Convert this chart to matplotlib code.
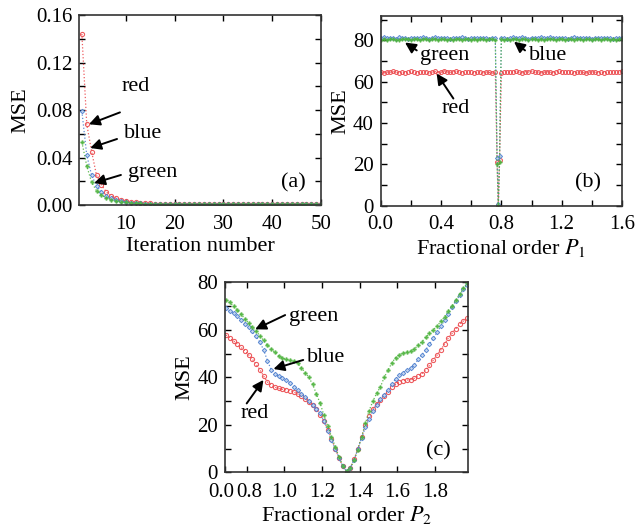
import numpy as np
import matplotlib
matplotlib.use("Agg")
import matplotlib.pyplot as plt
import matplotlib.transforms as mtransforms
from matplotlib.ticker import MultipleLocator, FixedLocator

plt.rcParams["font.family"] = ["Liberation Serif", "DejaVu Serif"]
plt.rcParams["mathtext.fontset"] = "stix"
plt.rcParams["font.size"] = 15

RED = "#ec4a4e"
BLUE = "#4d7fcf"
GREEN = "#4db33d"

# (a) MSE vs iteration
ITER = list(range(1, 51))
A_RED = [0.144, 0.068, 0.045, 0.025, 0.017, 0.011, 0.0078, 0.0058, 0.0044, 0.0034,
         0.0027, 0.0022, 0.0018, 0.0015, 0.0013, 0.0012, 0.0011, 0.0010, 0.0010, 0.0009,
         0.0009, 0.0009, 0.0008, 0.0009, 0.0008, 0.0009, 0.0008, 0.0008, 0.0009, 0.0008,
         0.0008, 0.0009, 0.0008, 0.0008, 0.0009, 0.0008, 0.0008, 0.0009, 0.0008, 0.0008,
         0.0009, 0.0008, 0.0008, 0.0009, 0.0008, 0.0008, 0.0009, 0.0008, 0.0008, 0.0009]
A_BLUE = [0.079, 0.042, 0.025, 0.016, 0.011, 0.0075, 0.0055, 0.0042, 0.0033, 0.0026,
          0.0021, 0.0017, 0.0014, 0.0012, 0.0010, 0.0009, 0.0008, 0.0008, 0.0007, 0.0007,
          0.0007, 0.0006, 0.0007, 0.0006, 0.0007, 0.0006, 0.0006, 0.0007, 0.0006, 0.0006,
          0.0007, 0.0006, 0.0006, 0.0007, 0.0006, 0.0006, 0.0007, 0.0006, 0.0006, 0.0007,
          0.0006, 0.0006, 0.0007, 0.0006, 0.0006, 0.0007, 0.0006, 0.0006, 0.0007, 0.0006]
A_GREEN = [0.053, 0.033, 0.019, 0.012, 0.0082, 0.0060, 0.0046, 0.0036, 0.0029, 0.0023,
           0.0019, 0.0015, 0.0013, 0.0011, 0.0010, 0.0009, 0.0008, 0.0007, 0.0007, 0.0006,
           0.0006, 0.0006, 0.0006, 0.0006, 0.0006, 0.0006, 0.0006, 0.0006, 0.0006, 0.0006,
           0.0006, 0.0006, 0.0006, 0.0006, 0.0006, 0.0006, 0.0006, 0.0006, 0.0006, 0.0006,
           0.0006, 0.0006, 0.0006, 0.0006, 0.0006, 0.0006, 0.0006, 0.0006, 0.0006, 0.0006]

# (b) MSE vs fractional order P1
P1_LEFT = np.round(np.arange(0.0, 0.761, 0.02), 3)
P1_DIP = [0.772, 0.78, 0.788]
P1_RIGHT = np.round(np.arange(0.80, 1.601, 0.02), 3)
P1 = np.concatenate([P1_LEFT, P1_DIP, P1_RIGHT])
B_RED = [64.6, 64.2, 64.8, 64.5, 65.0, 64.7, 64.3, 64.9, 64.4, 64.6, 65.1, 64.5, 64.2,
         64.8, 64.6, 64.9, 64.3, 64.7, 65.0, 64.4, 64.6, 65.3, 64.8, 64.5, 64.9, 65.2,
         64.7, 64.4, 64.8, 64.5, 64.9, 64.3, 64.6, 64.8, 64.4, 64.7, 64.5, 64.2, 64.6,
         21.0, 0.5, 22.0,
         64.3, 64.7, 64.9, 64.5, 64.8, 65.0, 64.6, 64.4, 64.9, 64.7, 65.1, 64.5, 64.8,
         64.3, 64.6, 64.9, 64.7, 64.4, 64.8, 65.2, 64.6, 64.5, 64.9, 64.7, 64.3, 64.6,
         64.8, 64.5, 64.2, 64.7, 64.9, 64.6, 64.4, 64.8, 64.3, 64.7, 64.5, 64.9, 64.6,
         64.8, 65.0]
B_BLUE = [81.2, 81.6, 81.0, 81.4, 81.3, 80.9, 81.5, 81.1, 81.3, 80.8, 81.2, 81.4, 81.0,
          81.3, 81.6, 81.1, 80.9, 81.2, 81.5, 81.0, 81.3, 81.1, 81.4, 80.8, 81.2, 81.0,
          81.3, 81.5, 81.1, 80.9, 81.2, 81.4, 81.0, 81.3, 81.1, 81.2, 80.9, 81.3, 81.1,
          23.0, 0.6, 24.0,
          81.1, 81.3, 80.9, 81.2, 81.5, 81.0, 81.3, 81.6, 81.1, 80.9, 81.4, 81.2, 81.0,
          81.5, 81.3, 81.1, 81.7, 81.2, 81.0, 81.4, 81.1, 81.3, 80.9, 81.2, 81.6, 81.0,
          81.3, 81.1, 81.4, 81.2, 80.9, 81.3, 81.1, 81.2, 81.0, 81.4, 81.1, 80.8, 81.2,
          81.0, 81.1]
B_GREEN = [80.3, 80.8, 80.1, 80.6, 80.9, 80.4, 80.2, 80.7, 80.5, 80.9, 80.3, 80.6, 80.8,
           80.2, 80.5, 80.7, 80.4, 80.9, 80.6, 80.3, 80.8, 80.5, 80.2, 80.7, 80.4, 80.6,
           80.9, 80.3, 80.5, 80.8, 80.4, 80.6, 80.2, 80.7, 80.5, 80.3, 80.8, 80.6, 80.4,
           20.0, 0.4, 21.0,
           80.5, 80.2, 80.7, 80.4, 80.9, 80.6, 80.3, 80.8, 80.5, 80.2, 80.7, 80.9, 80.4,
           80.6, 80.3, 80.8, 80.5, 80.7, 80.2, 80.6, 80.9, 80.4, 80.5, 80.7, 80.3, 80.8,
           80.6, 80.2, 80.5, 80.7, 80.4, 80.9, 80.6, 80.3, 80.5, 80.8, 80.4, 80.6, 80.2,
           80.5, 80.7]

# (c) MSE vs fractional order P2
P2 = np.round(np.arange(0.69, 1.971, 0.02), 3)
C_GREEN = [72.5, 71.5, 70.0, 68.3, 66.5, 64.7, 62.8, 61.0, 59.5, 57.5, 55.5, 53.5, 52.0,
           50.5, 49.0, 48.0, 47.5, 47.2, 46.8, 46.0, 44.0, 42.0, 40.0, 37.0, 33.0, 29.0,
           24.0, 19.5, 15.0, 10.8, 6.5, 2.8, 0.5, 1.8, 5.0, 9.5, 15.0, 20.6, 26.0, 30.0,
           33.3, 36.0, 40.0, 43.0, 46.0, 48.3, 49.5, 50.2, 50.6, 51.0, 52.0, 53.5, 55.0,
           56.8, 58.5, 60.0, 61.5, 63.5, 65.5, 68.0, 70.0, 72.5, 75.0, 77.5, 79.5]
C_BLUE = [69.0, 68.0, 67.0, 65.8, 64.3, 62.6, 61.0, 59.3, 57.2, 54.8, 51.5, 47.0, 43.2,
          41.5, 40.5, 39.6, 38.9, 37.7, 36.0, 34.5, 33.0, 31.7, 30.2, 28.5, 26.6, 24.8,
          21.5, 17.5, 13.5, 9.8, 6.0, 2.5, 0.4, 2.0, 5.2, 9.8, 14.5, 19.0, 22.5, 26.0,
          28.5, 30.8, 32.7, 34.7, 37.0, 39.3, 40.8, 42.0, 43.0, 43.8, 45.3, 47.5, 49.5,
          51.5, 54.0, 56.4, 58.9, 61.5, 64.0, 66.7, 69.5, 72.0, 74.5, 77.0, 79.0]
C_RED = [57.8, 56.6, 55.3, 54.0, 52.6, 51.2, 49.5, 47.6, 45.5, 43.2, 40.5, 38.0, 36.6,
         35.8, 35.3, 34.9, 34.7, 34.3, 33.8, 33.0, 32.0, 31.0, 29.7, 28.5, 26.8, 24.3,
         21.5, 18.0, 14.0, 10.0, 6.0, 2.5, 0.3, 1.8, 5.5, 10.0, 15.0, 19.8, 23.5, 26.5,
         28.8, 30.5, 32.3, 34.0, 35.8, 37.0, 38.0, 38.5, 38.8, 39.0, 39.6, 40.5, 41.5,
         43.0, 45.0, 47.2, 49.3, 51.5, 54.0, 56.5, 58.5, 60.5, 62.3, 63.7, 64.8]


def draw_series(ax, x, red, blue, green, ms=3.0):
    ax.plot(x, red, ls=":", lw=0.9, color=RED, marker="o", ms=ms,
            mfc="none", mec=RED, mew=0.8, alpha=0.9)
    ax.plot(x, blue, ls=":", lw=0.9, color=BLUE, marker="D", ms=ms * 0.75,
            mfc="#c5d6f0", mec=BLUE, mew=0.7, alpha=0.9)
    ax.plot(x, green, ls=":", lw=0.9, color=GREEN, marker="P", ms=ms * 0.9,
            mfc=GREEN, mec=GREEN, mew=0.3, alpha=0.9)


def style_axes(ax, xpad=7):
    ax.tick_params(which="both", direction="in", top=True, right=True,
                   labelsize=15, length=4.5, width=1)
    ax.tick_params(axis="x", pad=xpad)
    ax.tick_params(axis="y", pad=5)
    for s in ax.spines.values():
        s.set_linewidth(1.2)
        s.set_color("#333333")


def arrow(ax, text, tail, head, tpos):
    ax.annotate("", xy=head, xytext=tail,
                arrowprops=dict(arrowstyle="-|>", color="black", lw=1.4,
                                mutation_scale=16, shrinkA=0, shrinkB=0))
    ax.text(tpos[0], tpos[1], text, ha="center", va="center", fontsize=16)


def nudge(label, dx_pt):
    label.set_transform(label.get_transform() +
                        mtransforms.ScaledTranslation(dx_pt / 72, 0, fig.dpi_scale_trans))


fig = plt.figure(figsize=(6.38, 5.25), dpi=100)

# panel (a)
ax_a = fig.add_axes([0.1245, 0.6095, 0.3787, 0.3619])
draw_series(ax_a, ITER, A_RED, A_BLUE, A_GREEN)
ax_a.set_xlim(0.5, 50)
ax_a.set_ylim(0, 0.16)
ax_a.xaxis.set_major_locator(FixedLocator([10, 20, 30, 40, 50]))
ax_a.yaxis.set_major_locator(MultipleLocator(0.04))
ax_a.yaxis.set_minor_locator(MultipleLocator(0.02))
ax_a.yaxis.set_major_formatter(plt.FuncFormatter(lambda v, p: f"{v:.2f}"))
ax_a.set_xlabel("Iteration number", fontsize=16, labelpad=2)
ax_a.set_ylabel("MSE", fontsize=16)
style_axes(ax_a)
arrow(ax_a, "red", (8.8, 0.078), (2.45, 0.068), (12.1, 0.100))
arrow(ax_a, "blue", (8.2, 0.0556), (2.7, 0.048), (13.5, 0.0606))
arrow(ax_a, "green", (9.0, 0.0253), (3.5, 0.0185), (15.6, 0.0278))
ax_a.text(0.884, 0.116, "(a)", transform=ax_a.transAxes, ha="center",
          va="center", fontsize=16)

# panel (b)
ax_b = fig.add_axes([0.5967, 0.6082, 0.3782, 0.3619])
draw_series(ax_b, P1, B_RED, B_BLUE, B_GREEN, ms=2.8)
ax_b.set_xlim(0, 1.6)
ax_b.set_ylim(0, 92)
ax_b.xaxis.set_major_locator(MultipleLocator(0.4))
ax_b.xaxis.set_minor_locator(MultipleLocator(0.2))
ax_b.yaxis.set_major_locator(MultipleLocator(20))
ax_b.yaxis.set_minor_locator(MultipleLocator(10))
ax_b.xaxis.set_major_formatter(plt.FuncFormatter(lambda v, p: f"{v:.1f}"))
ax_b.set_xlabel("Fractional order $P_1$", fontsize=16, labelpad=2)
ax_b.set_ylabel("MSE", fontsize=16, labelpad=2)
style_axes(ax_b)
arrow(ax_b, "green", (0.239, 75.2), (0.161, 79.0), (0.426, 72.8))
arrow(ax_b, "blue", (0.957, 75.2), (0.884, 79.4), (1.107, 72.8))
arrow(ax_b, "red", (0.482, 51.9), (0.371, 64.0), (0.497, 47.0))
ax_b.text(0.86, 0.121, "(b)", transform=ax_b.transAxes, ha="center",
          va="center", fontsize=16)

# panel (c)
ax_c = fig.add_axes([0.3527, 0.1004, 0.3804, 0.3619])
draw_series(ax_c, P2, C_RED, C_BLUE, C_GREEN)
ax_c.set_xlim(0.685, 1.973)
ax_c.set_ylim(0, 80)
ax_c.xaxis.set_major_locator(FixedLocator([0.685, 0.8, 1.0, 1.2, 1.4, 1.6, 1.8]))
ax_c.set_xticklabels(["0.0", "0.8", "1.0", "1.2", "1.4", "1.6", "1.8"])
ax_c.yaxis.set_major_locator(MultipleLocator(20))
ax_c.yaxis.set_minor_locator(MultipleLocator(10))
ax_c.set_xlabel("Fractional order $P_2$", fontsize=16, labelpad=1)
ax_c.set_ylabel("MSE", fontsize=16, labelpad=2)
style_axes(ax_c, xpad=8)
# the first two tick labels are crowded, spread them apart as in the original
ticklabels = ax_c.get_xticklabels()
nudge(ticklabels[0], -3)
nudge(ticklabels[1], 2)
arrow(ax_c, "green", (1.004, 66.2), (0.845, 60.2), (1.154, 65.8))
arrow(ax_c, "blue", (1.10, 47.3), (0.942, 43.5), (1.22, 48.4))
arrow(ax_c, "red", (0.80, 29.0), (0.889, 38.9), (0.841, 24.8))
ax_c.text(0.879, 0.114, "(c)", transform=ax_c.transAxes, ha="center",
          va="center", fontsize=16)

fig.savefig("out.png", dpi=100)
